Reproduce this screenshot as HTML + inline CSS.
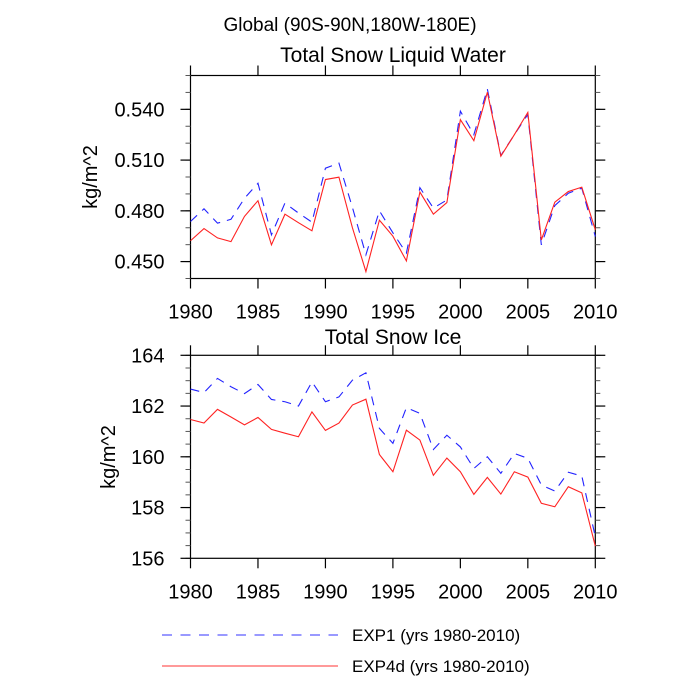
<!DOCTYPE html>
<html><head><meta charset="utf-8"><style>
body{margin:0;background:#fff;}
svg{display:block;font-family:"Liberation Sans",sans-serif;}
</style></head><body>
<svg id="c" width="700" height="700">
<text x="350" y="31" font-size="19" text-anchor="middle">Global (90S-90N,180W-180E)</text>
<text x="393" y="62" font-size="21" text-anchor="middle">Total Snow Liquid Water</text>
<text x="393" y="344" font-size="21" text-anchor="middle">Total Snow Ice</text>
<text transform="translate(97,177) rotate(-90)" font-size="20" text-anchor="middle">kg/m^2</text>
<text transform="translate(115,457) rotate(-90)" font-size="20" text-anchor="middle">kg/m^2</text>
<g>
<line x1="162" y1="635" x2="338" y2="635" stroke="#3333ff" stroke-width="1" stroke-dasharray="10,8.5"/>
<text x="352" y="641" font-size="17">EXP1 (yrs 1980-2010)</text>
<line x1="162" y1="666" x2="338" y2="666" stroke="#ff3333" stroke-width="1"/>
<text x="352" y="672" font-size="17">EXP4d (yrs 1980-2010)</text>
</g>
</svg>
<script>
const years=[1980,1981,1982,1983,1984,1985,1986,1987,1988,1989,1990,1991,1992,1993,1994,1995,1996,1997,1998,1999,2000,2001,2002,2003,2004,2005,2006,2007,2008,2009,2010];
const waterExp1=[0.4737,0.4812,0.4727,0.475,0.4874,0.4963,0.4658,0.4846,0.4787,0.4733,0.5052,0.5082,0.482,0.454,0.480,0.467,0.455,0.4937,0.4816,0.4864,0.5389,0.525,0.552,0.5127,0.525,0.537,0.4599,0.4831,0.4904,0.4934,0.4648];
const waterExp4d=[0.4623,0.4695,0.464,0.4618,0.4767,0.486,0.4599,0.478,0.473,0.4682,0.4985,0.4999,0.470,0.4441,0.4745,0.465,0.4504,0.4911,0.478,0.4849,0.5339,0.5215,0.5501,0.5123,0.525,0.5382,0.4628,0.4851,0.4914,0.494,0.4688];
const iceExp1=[162.67,162.53,163.09,162.76,162.49,162.85,162.26,162.17,162.0,162.95,162.17,162.36,163.02,163.31,161.12,160.53,161.94,161.71,160.29,160.85,160.39,159.54,160.0,159.35,160.13,159.94,158.89,158.65,159.39,159.24,156.85];
const iceExp4d=[161.47,161.33,161.87,161.57,161.26,161.55,161.08,160.93,160.79,161.77,161.04,161.33,162.04,162.27,160.09,159.41,161.05,160.66,159.27,159.95,159.41,158.52,159.19,158.53,159.41,159.20,158.17,158.03,158.82,158.58,156.48];
const xTicks=[1980,1985,1990,1995,2000,2005,2010];
const waterTicks=[0.450,0.480,0.510,0.540];
const iceTicks=[156,158,160,162,164];

const NS="http://www.w3.org/2000/svg";
const svg=document.getElementById('c');
function mk(tag,attrs,parent){const e=document.createElementNS(NS,tag);for(const k in attrs)e.setAttribute(k,attrs[k]);(parent||svg).appendChild(e);return e;}
const X0=190.5,X1=595.3;
function xs(v){return X0+(v-1980)/(2010-1980)*(X1-X0);}

function panel(name,top,bot,ymin,ymax,ticks,minorStep,dec,s1,s2){
  const g=mk('g',{});
  
  
  const ys=v=>bot-(v-ymin)/(ymax-ymin)*(bot-top);
  const fr=mk('rect',{x:X0,y:top,width:X1-X0,height:bot-top,fill:'none',stroke:'#000','stroke-width':1.2},g);
  
  
  xTicks.forEach(yr=>{
    const x=xs(yr);
    mk('line',{x1:x,x2:x,y1:bot,y2:bot+10,stroke:'#000','stroke-width':1.2},g);
    mk('line',{x1:x,x2:x,y1:top,y2:top-10,stroke:'#000','stroke-width':1.2},g);
    const t=mk('text',{x:x,y:bot+40,'font-size':20,'text-anchor':'middle'},g);
    t.textContent=yr;
    
    
  });
  for(let v=ymin;v<=ymax+1e-9;v+=minorStep){
    const y=ys(v);
    mk('line',{x1:X0,x2:X0-5,y1:y,y2:y,stroke:'#555','stroke-width':1},g);
    mk('line',{x1:X1,x2:X1+5,y1:y,y2:y,stroke:'#555','stroke-width':1},g);
  }
  ticks.forEach(v=>{
    const y=ys(v);
    mk('line',{x1:X0,x2:X0-10,y1:y,y2:y,stroke:'#000','stroke-width':1.2},g);
    mk('line',{x1:X1,x2:X1+10,y1:y,y2:y,stroke:'#000','stroke-width':1.2},g);
    const t=mk('text',{x:X0-26,y:y+7,'font-size':20,'text-anchor':'end'},g);
    t.textContent=v.toFixed(dec);
    
    
  });
  const p1=mk('polyline',{points:years.map((yr,i)=>xs(yr)+','+ys(s1[i])).join(' '),fill:'none',stroke:'#2222ff','stroke-width':1.1,'stroke-dasharray':'9,7'},g);
  
  
  const p2=mk('polyline',{points:years.map((yr,i)=>xs(yr)+','+ys(s2[i])).join(' '),fill:'none',stroke:'#ff2222','stroke-width':1.1},g);
  
  
}
panel('top',75.5,278.5,0.44,0.56,waterTicks,0.01,3,waterExp1,waterExp4d);
panel('bottom',355.3,558.3,156,164,iceTicks,0.5,0,iceExp1,iceExp4d);
</script>
</body></html>
